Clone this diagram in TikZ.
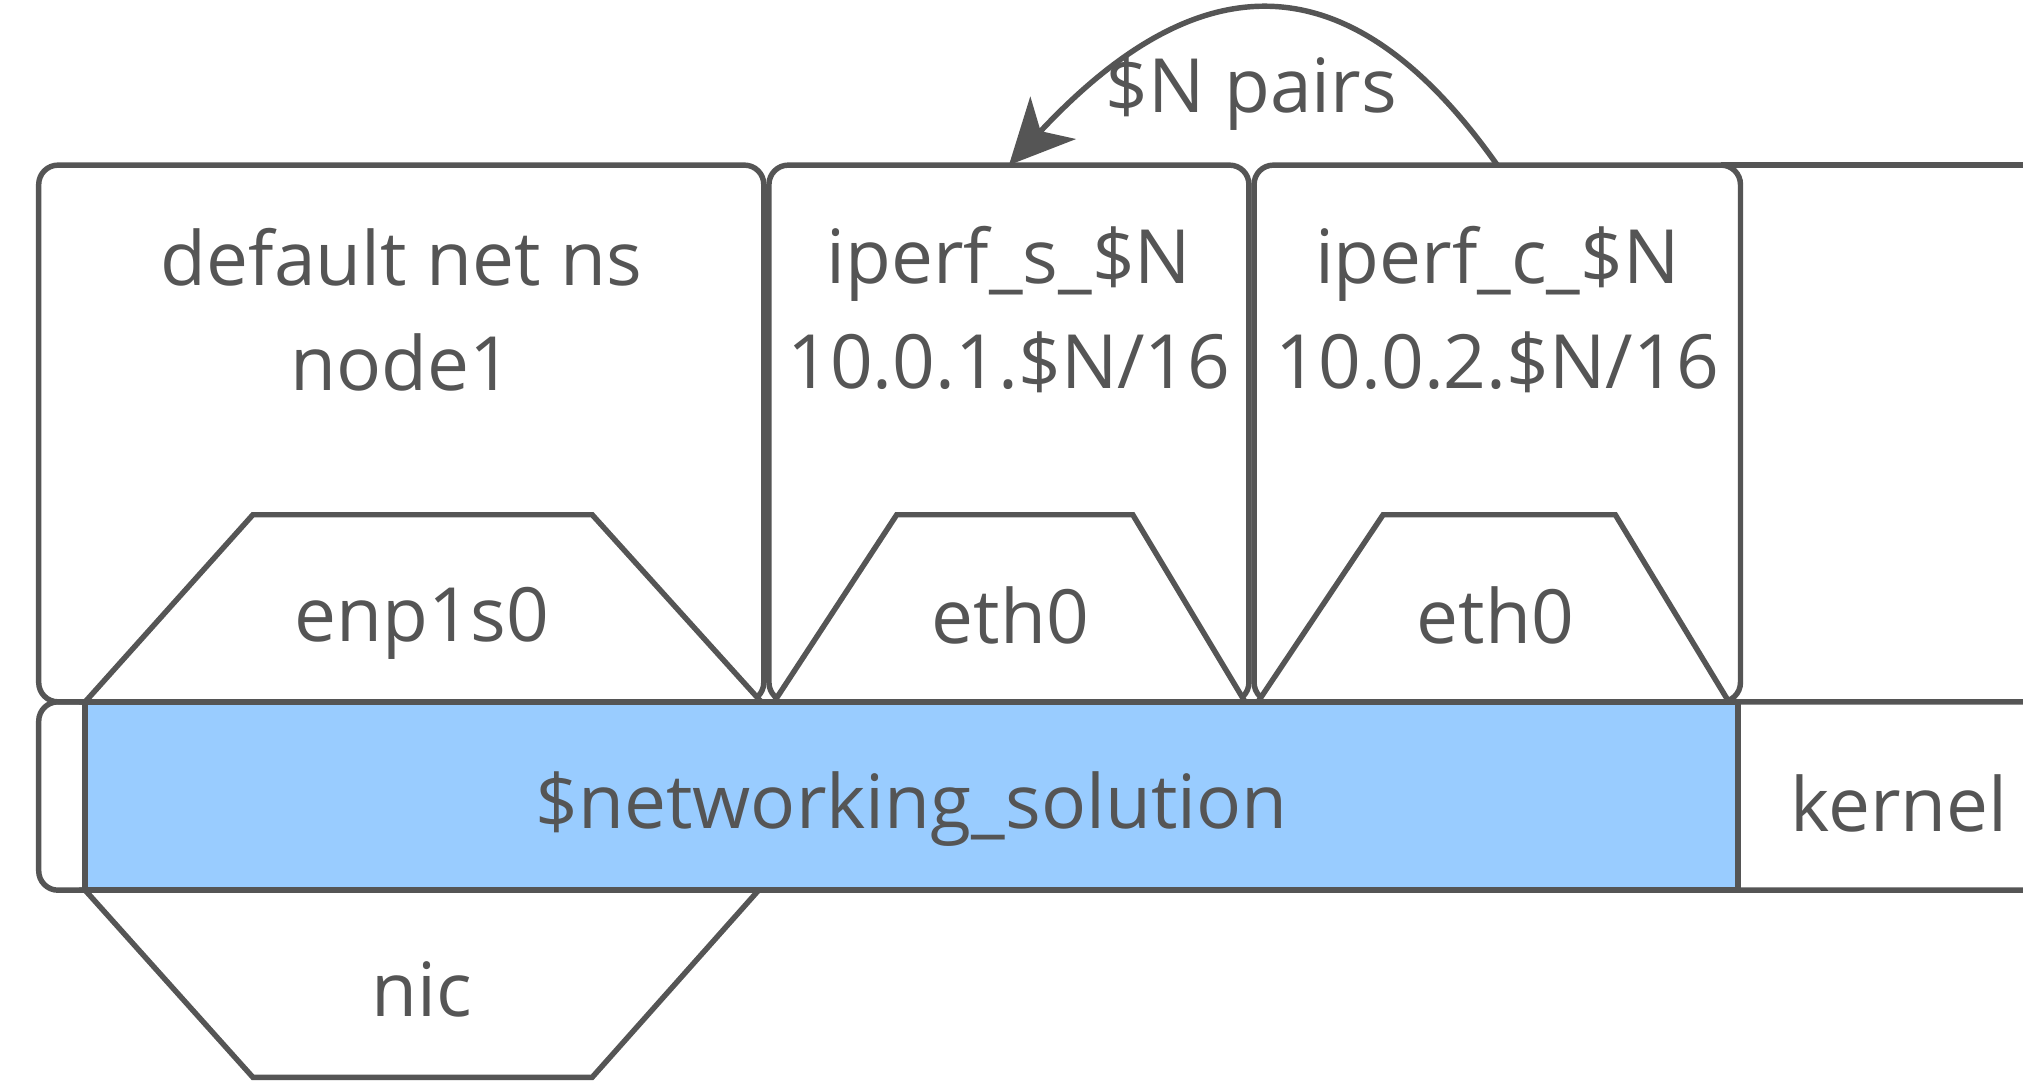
\documentclass[tikz,border=0pt]{standalone}
\usepackage{fontspec}
\setmainfont{Open Sans}
\usetikzlibrary{arrows.meta}
\definecolor{linegray}{HTML}{555555}
\definecolor{netblue}{HTML}{99CCFF}
\tikzset{
  box/.style={draw=linegray, line width=1.2pt, rounded corners=0.15cm, inner sep=0pt, outer sep=0pt},
  port/.style={draw=linegray, line width=1.2pt, fill=white, line join=miter},
  lbl/.style={text=linegray, font=\fontsize{16.5}{23}\selectfont, align=center, inner sep=0pt},
}
\begin{document}
\begin{tikzpicture}
  \clip (0,0) rectangle (15.68,8.38);
  \fill[white] (0,0) rectangle (15.68,8.38);

  % Kernel bar
  \node[box, minimum width=16cm, minimum height=1.46cm] (kernelbar) at (8.30,2.21) {};
  \node[lbl] (kern) at (14.72,2.15) {kernel};

  % Networking solution
  \node[box, rounded corners=0pt, fill=netblue, minimum width=12.81cm, minimum height=1.46cm]
    (netsol) at (7.065,2.21) {};
  \node[lbl] (netsolname) at (7.065,2.11) {\$networking\_solution};

  % Namespaces
  \node[box, minimum width=5.62cm, minimum height=4.16cm] (ns) at (3.11,5.02) {};
  \node[box, minimum width=3.72cm, minimum height=4.16cm] (ips) at (7.82,5.02) {};
  \node[box, minimum width=3.77cm, minimum height=4.16cm] (ipc) at (11.605,5.02) {};
  \draw[linegray, line width=1.2pt] ([xshift=-0.15cm]ipc.north east) -- ++(3,0);

  % Namespace labels
  \node[lbl] (nsname) at ([yshift=-1.12cm]ns.north) {default net ns\\node1};
  \node[lbl] (ipsname) at ([yshift=-1.12cm]ips.north) {iperf\_s\_\$N\\10.0.1.\$N/16};
  \node[lbl] (ipcname) at ([yshift=-1.12cm]ipc.north) {iperf\_c\_\$N\\10.0.2.\$N/16};

  % Interfaces
  \draw[port] (0.66,2.94) -- (1.96,4.39) -- (4.59,4.39) -- (5.90,2.94) -- cycle;
  \draw[port] (6.00,2.94) -- (6.95,4.39) -- (8.78,4.39) -- (9.65,2.94) -- cycle;
  \draw[port] (9.75,2.94) -- (10.72,4.39) -- (12.52,4.39) -- (13.40,2.94) -- cycle;
  \draw[port] (0.66,1.48) -- (1.96,0.03) -- (4.59,0.03) -- (5.88,1.48) -- cycle;
  \node[lbl] (enp) at (3.27,3.55) {enp1s0};
  \node[lbl] (eths) at (7.83,3.61) {eth0};
  \node[lbl] (ethc) at (11.59,3.61) {eth0};
  \node[lbl] (nic) at (3.27,0.71) {nic};

  % Pairs
  \draw[linegray, line width=1.2pt, -{Stealth[length=0.5cm, width=0.48cm, inset=0.14cm]}]
    (ipc.north) .. controls +(-1.2,1.7) and +(1.4,1.5) .. (ips.north);
  \node[lbl] (pairs) at (9.70,7.66) {\$N pairs};
\end{tikzpicture}
\end{document}
